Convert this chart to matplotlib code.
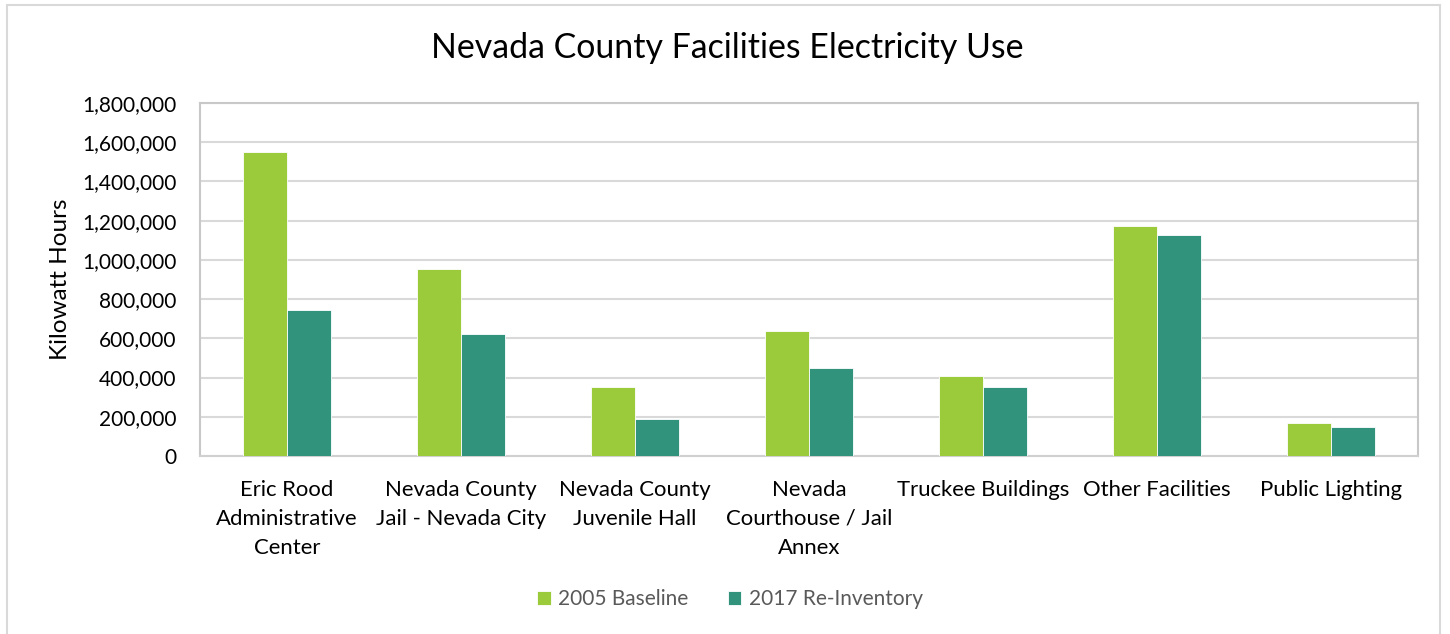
import matplotlib
matplotlib.use('Agg')
import matplotlib.pyplot as plt
from matplotlib.patches import Rectangle
from matplotlib.ticker import FuncFormatter
import numpy as np

plt.rcParams['font.family'] = ['Lato', 'DejaVu Sans']

# Data
categories = ['Eric Rood\nAdministrative\nCenter',
              'Nevada County\nJail - Nevada City',
              'Nevada County\nJuvenile Hall',
              'Nevada\nCourthouse / Jail\nAnnex',
              'Truckee Buildings',
              'Other Facilities',
              'Public Lighting']
baseline_2005 = [1549000, 953000, 354000, 639000, 408000, 1174000, 168000]
reinventory_2017 = [745000, 624000, 189000, 449000, 354000, 1129000, 149000]
series_names = ['2005 Baseline', '2017 Re-Inventory']

green = '#9BCB3B'
teal = '#31937C'

W, H = 1450, 634
fig = plt.figure(figsize=(W / 100, H / 100), dpi=100)
ax = fig.add_axes([200 / W, 1 - 456 / H, 1218 / W, 353 / H])

x = np.arange(len(categories))
bw = 0.253
ax.bar(x - bw / 2, baseline_2005, bw, color=green, edgecolor='white',
       linewidth=0.6, label=series_names[0], zorder=3)
ax.bar(x + bw / 2, reinventory_2017, bw, color=teal, edgecolor='white',
       linewidth=0.6, label=series_names[1], zorder=3)

ax.set_xlim(-0.5, len(categories) - 0.5)
ax.set_ylim(0, 1800000)
ax.set_yticks(np.arange(0, 1800001, 200000))
ax.yaxis.set_major_formatter(FuncFormatter(lambda v, p: f'{int(v):,}'))
ax.grid(axis='y', color='#D9D9D9', linewidth=1.5, zorder=0)
ax.set_xticks(x)
ax.set_xticklabels(categories, fontsize=15.9, linespacing=1.57)
ax.tick_params(axis='y', length=0, labelsize=15, pad=17)
ax.tick_params(axis='x', length=0, pad=17)
for s in ax.spines.values():
    s.set_color('#C8C8C8')
    s.set_linewidth(1.5)
ax.spines['bottom'].set_color('#D0D0D0')

ax.set_ylabel('Kilowatt Hours', fontsize=17.5)
ax.yaxis.set_label_coords((71 - 200) / 1218, 0.5)

fig.text(727 / W, 1 - 48 / H, 'Nevada County Facilities Electricity Use',
         ha='center', va='center', fontsize=24.4)

leg = fig.legend(loc='center', bbox_to_anchor=(730 / W, 1 - 599 / H), ncol=2,
                 frameon=False, fontsize=15, handlelength=0.65, handleheight=0.65,
                 handletextpad=0.35, columnspacing=1.9)
for t in leg.get_texts():
    t.set_color('#595959')

# outer chart border
fig.patches.append(Rectangle((7 / W, -0.05), (1440 - 7) / W, 1.05 - 5 / H,
                             transform=fig.transFigure, fill=False,
                             edgecolor='#D9D9D9', linewidth=1.5))

fig.savefig('out.png', dpi=100)
